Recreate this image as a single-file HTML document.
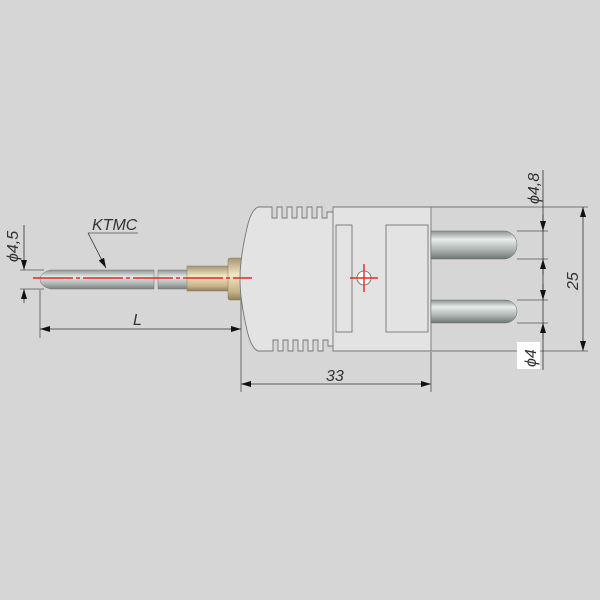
<!DOCTYPE html>
<html><head><meta charset="utf-8"><style>
html,body{margin:0;padding:0;background:#d6d6d6;}
svg{display:block}
text{font-family:"Liberation Sans",sans-serif;font-style:italic;fill:#333;font-size:16px}
</style></head><body>
<svg width="600" height="600" viewBox="0 0 600 600">
<defs>
<linearGradient id="pin" x1="0" y1="0" x2="0" y2="1">
<stop offset="0" stop-color="#8a9290"/><stop offset="0.3" stop-color="#e8ecea"/><stop offset="0.7" stop-color="#a8b0ae"/><stop offset="1" stop-color="#6f7775"/></linearGradient>
<linearGradient id="tube" x1="0" y1="0" x2="0" y2="1">
<stop offset="0" stop-color="#8e9492"/><stop offset="0.35" stop-color="#e4e8e6"/><stop offset="0.75" stop-color="#a9afad"/><stop offset="1" stop-color="#7a807e"/></linearGradient>
<linearGradient id="brass" x1="0" y1="0" x2="0" y2="1">
<stop offset="0" stop-color="#a89470"/><stop offset="0.4" stop-color="#f2e6c4"/><stop offset="0.8" stop-color="#c7b28a"/><stop offset="1" stop-color="#8e7c5c"/></linearGradient>
<marker id="ar" markerWidth="10" markerHeight="6" refX="10" refY="3" orient="auto" markerUnits="userSpaceOnUse"><path d="M0,0 L10,3 L0,6z" fill="#111"/></marker>
<marker id="al" markerWidth="10" markerHeight="6" refX="0" refY="3" orient="auto" markerUnits="userSpaceOnUse"><path d="M10,0 L0,3 L10,6z" fill="#111"/></marker>
</defs>
<rect width="600" height="600" fill="#d6d6d6"/>
<g stroke="#555" stroke-width="0.8" fill="none">
<line x1="40" y1="290" x2="40" y2="338"/>
<line x1="241" y1="300" x2="241" y2="392"/>
<line x1="431" y1="352" x2="431" y2="392"/>
<line x1="20" y1="270" x2="44" y2="270"/>
<line x1="20" y1="289" x2="44" y2="289"/>
<line x1="431" y1="207" x2="588" y2="207"/>
<line x1="431" y1="351" x2="588" y2="351"/>
<line x1="517" y1="231" x2="548" y2="231"/>
<line x1="517" y1="259" x2="548" y2="259"/>
<line x1="517" y1="300" x2="548" y2="300"/>
<line x1="517" y1="323" x2="548" y2="323"/>
<line x1="88" y1="233" x2="138" y2="233"/>
</g>
<g stroke="#333" stroke-width="0.8" fill="none">
<line x1="24" y1="225" x2="24" y2="270" marker-end="url(#ar)"/>
<line x1="24" y1="303" x2="24" y2="289" marker-end="url(#ar)"/>
<line x1="40" y1="329" x2="241" y2="329" marker-start="url(#al)" marker-end="url(#ar)"/>
<line x1="241" y1="384" x2="431" y2="384" marker-start="url(#al)" marker-end="url(#ar)"/>
<line x1="583" y1="207" x2="583" y2="351" marker-start="url(#al)" marker-end="url(#ar)"/>
<line x1="543" y1="170" x2="543" y2="370"/>
<line x1="543" y1="215" x2="543" y2="231" marker-end="url(#ar)"/>
<line x1="543" y1="275" x2="543" y2="259" marker-end="url(#ar)"/>
<line x1="543" y1="284" x2="543" y2="300" marker-end="url(#ar)"/>
<line x1="543" y1="339" x2="543" y2="323" marker-end="url(#ar)"/>
<line x1="88" y1="233" x2="106" y2="268" marker-end="url(#ar)"/>
</g>
<path d="M50,270 L154,270 L154,289 L50,289 Q40,286 40,279.5 Q40,273 50,270z" fill="url(#tube)" stroke="#777" stroke-width="0.5"/>
<rect x="158" y="270" width="32" height="19" fill="url(#tube)" stroke="#777" stroke-width="0.5"/>
<rect x="187" y="266" width="43" height="25" fill="url(#brass)" stroke="#8a7a5a" stroke-width="0.5"/>
<rect x="228" y="258" width="14" height="42" rx="2" fill="url(#brass)" stroke="#8a7a5a" stroke-width="0.5"/>
<path d="M258,207 L272,207 L272,218 L277,218 L277,207 L282,207 L282,218 L287,218 L287,207 L292,207 L292,218 L297,218 L297,207 L302,207 L302,218 L307,218 L307,207 L312,207 L312,218 L317,218 L317,207 L322,207 L322,218 L327,218 L327,212 L333,212 L333,207 L431,207 L431,351 L333,351 L333,346 L328,346 L328,340 L323,340 L323,351 L318,351 L318,340 L313,340 L313,351 L308,351 L308,340 L303,340 L303,351 L298,351 L298,340 L293,340 L293,351 L288,351 L288,340 L283,340 L283,351 L278,351 L278,340 L273,340 L273,351 L258,351 Q251,348 247,330 Q240,300 240,279 Q240,258 247,228 Q251,210 258,207z" fill="#e3e3e3" stroke="#777" stroke-width="0.9"/>
<line x1="333" y1="212" x2="333" y2="346" stroke="#777" stroke-width="0.9"/>
<rect x="336" y="225" width="16" height="107" fill="#e3e3e3" stroke="#777" stroke-width="0.9"/>
<rect x="386" y="225" width="42" height="107" fill="#e3e3e3" stroke="#777" stroke-width="0.9"/>
<path d="M431,231 L504,231 A13,14 0 0 1 504,259 L431,259z" fill="url(#pin)" stroke="#666" stroke-width="0.5"/>
<path d="M431,300 L505,300 A12,11.5 0 0 1 505,323 L431,323z" fill="url(#pin)" stroke="#666" stroke-width="0.5"/>
<line x1="33" y1="278" x2="252" y2="278" stroke="#e8262a" stroke-width="1.6" stroke-dasharray="40,3,4,3"/>
<circle cx="364" cy="278" r="7" fill="#fff" stroke="#666" stroke-width="0.8"/>
<line x1="350" y1="278" x2="378" y2="278" stroke="#e8262a" stroke-width="1.4"/>
<line x1="364" y1="264" x2="364" y2="292" stroke="#e8262a" stroke-width="1.4"/>
<text x="92" y="230">KTMC</text>
<text x="133" y="325">L</text>
<text x="326" y="381">33</text>
<text transform="translate(18,262) rotate(-90)" font-size="15">ϕ4,5</text>
<text transform="translate(539,204) rotate(-90)" font-size="15">ϕ4,8</text>
<text transform="translate(578,290) rotate(-90)">25</text>
<rect x="517" y="342" width="23" height="27" fill="#fff"/>
<text transform="translate(536,367) rotate(-90)" font-size="15">ϕ4</text>
</svg>
</body></html>
